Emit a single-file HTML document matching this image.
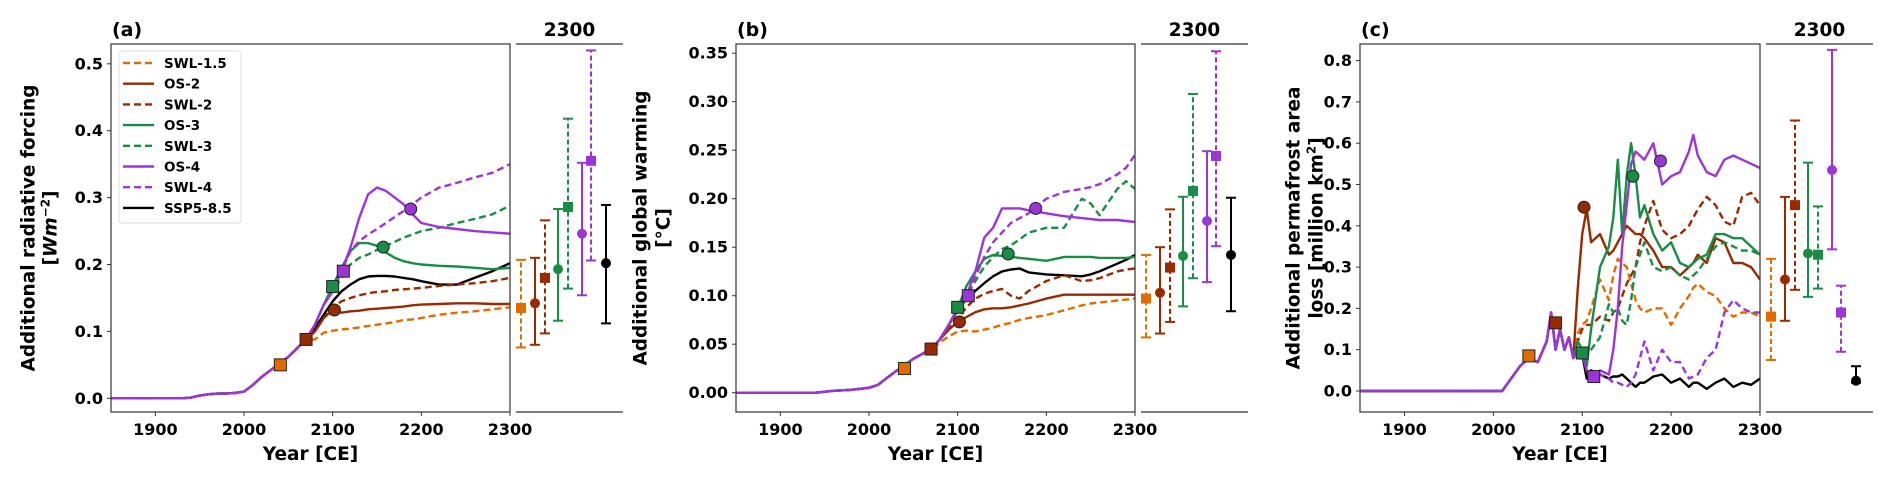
<!DOCTYPE html>
<html><head><meta charset="utf-8"><style>
html,body{margin:0;padding:0;background:#fff}
svg{display:block;font-family:"DejaVu Sans","Liberation Sans",sans-serif;font-weight:bold}
</style></head><body>
<svg id="fig" width="1892" height="482" viewBox="0 0 1892 482"></svg>
<script>
// ---------- shared ----------
const seriesNames = ["SWL-1.5","OS-2","SWL-2","OS-3","SWL-3","OS-4","SWL-4","SSP5-8.5"];
const xTicks = [1900,2000,2100,2200,2300];

// ---------- panel (a) data ----------
const aHistYears = [1850,1900,1930,1940,1950,1960,1970,1980,1990,2000,2010,2020,2030,2040,2050,2060,2070];
const aHistVals  = [0,0,0,0.001,0.004,0.006,0.007,0.007,0.008,0.01,0.02,0.032,0.042,0.052,0.062,0.075,0.088];
const aYearsLate = [2080,2090,2100,2110,2120,2130,2140,2150,2160,2170,2180,2190,2200,2220,2240,2260,2280,2300];
const aSWL15 = [0.088,0.098,0.101,0.103,0.104,0.106,0.108,0.110,0.112,0.114,0.117,0.118,0.120,0.125,0.128,0.130,0.133,0.136];
const aOS2   = [0.100,0.120,0.132,0.128,0.130,0.131,0.133,0.134,0.135,0.136,0.137,0.139,0.140,0.141,0.142,0.142,0.141,0.141];
const aSWL2  = [0.100,0.120,0.135,0.145,0.150,0.154,0.157,0.159,0.160,0.162,0.163,0.164,0.165,0.168,0.170,0.172,0.175,0.180];
const aOS3   = [0.110,0.140,0.168,0.195,0.220,0.232,0.232,0.228,0.218,0.210,0.205,0.202,0.200,0.198,0.197,0.195,0.193,0.195];
const aSWL3  = [0.110,0.140,0.160,0.180,0.200,0.210,0.215,0.222,0.228,0.234,0.240,0.245,0.250,0.255,0.262,0.268,0.275,0.288];
const aOS4   = [0.110,0.140,0.160,0.190,0.225,0.270,0.305,0.315,0.310,0.300,0.290,0.275,0.262,0.256,0.253,0.250,0.248,0.246];
const aSWL4  = [0.110,0.140,0.160,0.190,0.220,0.235,0.245,0.253,0.262,0.271,0.280,0.290,0.300,0.315,0.322,0.330,0.337,0.350];
const aSSP   = [0.105,0.125,0.145,0.160,0.170,0.178,0.182,0.183,0.183,0.182,0.180,0.178,0.175,0.170,0.170,0.180,0.190,0.202];
const aSqYears = [2041,2070,2100,2112];
const aSqVals  = [0.050,0.088,0.167,0.190];
const aCircYears = [2102,2157,2188];
const aCircVals  = [0.132,0.226,0.283];
const aMid  = [0.135,0.142,0.180,0.193,0.286,0.246,0.355,0.202];
const aLow  = [0.076,0.080,0.097,0.116,0.164,0.154,0.206,0.112];
const aHigh = [0.207,0.210,0.266,0.283,0.418,0.352,0.520,0.289];
const aYTicks = [0.0,0.1,0.2,0.3,0.4,0.5];
const aYTickLabels = ["0.0","0.1","0.2","0.3","0.4","0.5"];

// ---------- panel (b) data ----------
const bHistYears = [1850,1880,1900,1920,1940,1960,1980,2000,2010,2020,2030,2040,2050,2060,2070];
const bHistVals  = [0,0,0,0,0,0.002,0.003,0.005,0.008,0.015,0.022,0.028,0.035,0.040,0.045];
const bYearsLate = [2080,2090,2100,2110,2120,2130,2140,2150,2160,2170,2180,2200,2220,2240,2250,2260,2280,2290,2300];
const bSWL15 = [0.052,0.058,0.063,0.064,0.063,0.065,0.067,0.070,0.072,0.075,0.077,0.080,0.085,0.090,0.092,0.093,0.095,0.096,0.097];
const bOS2   = [0.055,0.065,0.073,0.078,0.083,0.086,0.087,0.087,0.088,0.090,0.092,0.097,0.101,0.101,0.101,0.101,0.101,0.101,0.101];
const bSWL2  = [0.055,0.066,0.077,0.088,0.097,0.102,0.105,0.107,0.100,0.097,0.105,0.115,0.121,0.115,0.116,0.118,0.125,0.127,0.128];
const bOS3   = [0.055,0.070,0.087,0.110,0.125,0.138,0.142,0.141,0.140,0.139,0.138,0.136,0.140,0.140,0.140,0.139,0.139,0.139,0.140];
const bSWL3  = [0.055,0.070,0.087,0.100,0.115,0.130,0.140,0.148,0.152,0.158,0.165,0.170,0.170,0.200,0.195,0.183,0.210,0.218,0.210];
const bOS4   = [0.055,0.070,0.087,0.100,0.125,0.160,0.170,0.190,0.190,0.190,0.188,0.185,0.182,0.180,0.179,0.178,0.178,0.177,0.176];
const bSWL4  = [0.055,0.070,0.087,0.100,0.120,0.140,0.155,0.165,0.175,0.180,0.185,0.200,0.207,0.210,0.212,0.215,0.225,0.232,0.245];
const bSSP   = [0.055,0.070,0.085,0.097,0.105,0.113,0.120,0.125,0.127,0.128,0.124,0.122,0.121,0.120,0.122,0.125,0.133,0.137,0.142];
const bSqYears = [2040,2070,2100,2112];
const bSqVals  = [0.025,0.045,0.088,0.100];
const bCircYears = [2102,2157,2188];
const bCircVals  = [0.073,0.143,0.190];
const bMid  = [0.097,0.103,0.129,0.141,0.208,0.177,0.244,0.142];
const bLow  = [0.057,0.061,0.073,0.089,0.118,0.114,0.151,0.084];
const bHigh = [0.142,0.150,0.189,0.202,0.308,0.249,0.352,0.201];
const bYTicks = [0,0.05,0.10,0.15,0.20,0.25,0.30,0.35];
const bYTickLabels = ["0.00","0.05","0.10","0.15","0.20","0.25","0.30","0.35"];

// ---------- panel (c) data ----------
const cHistYears = [1850,1900,1950,2000,2010,2020,2030,2040,2050,2060,2065,2070,2075,2080,2085,2090];
const cHistVals  = [0,0,0,0,0,0.03,0.06,0.08,0.07,0.12,0.19,0.10,0.15,0.10,0.13,0.08];
const cYearsLate = [2095,2100,2105,2110,2120,2130,2135,2140,2145,2150,2155,2160,2165,2170,2180,2190,2200,2210,2220,2225,2230,2240,2250,2260,2270,2280,2290,2300];
const cSWL15 = [0.14,0.16,0.17,0.20,0.27,0.22,0.28,0.32,0.31,0.30,0.26,0.22,0.20,0.19,0.20,0.20,0.16,0.20,0.23,0.25,0.26,0.24,0.23,0.20,0.18,0.19,0.19,0.18];
const cOS2   = [0.25,0.38,0.44,0.36,0.38,0.33,0.34,0.36,0.38,0.40,0.39,0.38,0.38,0.37,0.34,0.30,0.30,0.28,0.30,0.31,0.33,0.31,0.37,0.36,0.31,0.31,0.30,0.27];
const cSWL2  = [0.12,0.15,0.16,0.16,0.18,0.17,0.19,0.20,0.23,0.26,0.28,0.30,0.36,0.40,0.46,0.39,0.37,0.38,0.40,0.42,0.44,0.47,0.45,0.41,0.40,0.47,0.48,0.45];
const cOS3   = [0.12,0.10,0.06,0.15,0.30,0.35,0.42,0.56,0.38,0.52,0.60,0.52,0.42,0.45,0.38,0.34,0.36,0.31,0.30,0.31,0.32,0.33,0.38,0.38,0.37,0.37,0.35,0.33];
const cSWL3  = [0.10,0.095,0.09,0.10,0.13,0.21,0.19,0.20,0.17,0.16,0.22,0.30,0.33,0.36,0.30,0.29,0.30,0.28,0.27,0.28,0.29,0.32,0.35,0.36,0.35,0.34,0.34,0.33];
const cOS4   = [0.10,0.09,0.05,0.035,0.05,0.04,0.10,0.20,0.35,0.45,0.55,0.58,0.57,0.56,0.60,0.50,0.52,0.53,0.58,0.62,0.57,0.53,0.52,0.56,0.57,0.56,0.55,0.54];
const cSWL4  = [0.10,0.09,0.05,0.035,0.04,0.03,0.02,0.02,0.015,0.01,0.02,0.04,0.08,0.12,0.05,0.10,0.07,0.07,0.03,0.035,0.04,0.08,0.10,0.19,0.22,0.20,0.19,0.19];
const cSSP   = [0.10,0.09,0.03,0.05,0.04,0.03,0.035,0.035,0.04,0.03,0.02,0.01,0.02,0.02,0.035,0.04,0.02,0.03,0.01,0.02,0.02,0.005,0.02,0.03,0.01,0.02,0.015,0.03];
const cSqYears = [2040,2070,2100,2113];
const cSqVals  = [0.085,0.165,0.092,0.035];
const cCircYears = [2102,2157,2188];
const cCircVals  = [0.445,0.520,0.557];
const cMid  = [0.180,0.270,0.450,0.333,0.330,0.535,0.190,0.025];
const cLow  = [0.075,0.170,0.245,0.228,0.248,0.343,0.095,0.020];
const cHigh = [0.320,0.470,0.655,0.553,0.447,0.826,0.255,0.060];
const cYTicks = [0,0.1,0.2,0.3,0.4,0.5,0.6,0.7,0.8];
const cYTickLabels = ["0.0","0.1","0.2","0.3","0.4","0.5","0.6","0.7","0.8"];

// ---------- drawing ----------
const NS = "http://www.w3.org/2000/svg";
const svg = document.getElementById("fig");
const colors = ["#e06c00","#962b00","#962b00","#1a8c45","#1a8c45","#9b35d6","#9b35d6","#000000"];
const dashed = [true,false,true,false,true,false,true,false];
function mk(tag, attrs, parent){
  const e = document.createElementNS(NS, tag);
  for (const k in attrs) e.setAttribute(k, attrs[k]);
  (parent||svg).appendChild(e);
  return e;
}
function drawPanel(P){
  const g = mk("g", {});
  
  
  const X = yr => P.left + (yr - 1850) / 450 * (P.right - P.left);
  const Y = v => P.zeroY - v * P.pxPerUnit;
  const T = 44, B = 412;
  const cid = "clip" + P.id;
  const cp = mk("clipPath", {id: cid}, g);
  mk("rect", {x: P.left, y: T, width: P.right - P.left, height: B - T}, cp);
  const series = [P.s[0],P.s[1],P.s[2],P.s[3],P.s[4],P.s[5],P.s[6],P.s[7]];
  const order = [7,0,1,2,3,4,5,6];
  order.forEach(i => {
    const ys = P.histYears.concat(P.lateYears);
    const vs = P.histVals.concat(series[i]);
    let d = "";
    ys.forEach((yr, k) => { d += (k ? "L" : "M") + X(yr).toFixed(1) + " " + Y(vs[k]).toFixed(1); });
    const p = mk("path", {d: d, fill: "none", stroke: colors[i], "stroke-width": 2.4,
      "stroke-dasharray": dashed[i] ? "7 4" : "none", "clip-path": "url(#" + cid + ")", "stroke-linejoin": "round"}, g);
    
    
  });
  const sqIdx = [0,2,4,6];
  P.sqYears.forEach((yr, k) => {
    const r = mk("rect", {x: X(yr) - 6, y: Y(P.sqVals[k]) - 6, width: 12, height: 12, fill: colors[sqIdx[k]], stroke: "#222", "stroke-width": 1}, g);
    
    
  });
  const ciIdx = [1,3,5];
  P.circYears.forEach((yr, k) => {
    const c = mk("circle", {cx: X(yr), cy: Y(P.circVals[k]), r: 6, fill: colors[ciIdx[k]], stroke: "#222", "stroke-width": 1}, g);
    
    
  });
  const fr = mk("rect", {x: P.left, y: T, width: P.right - P.left, height: B - T, fill: "none", stroke: "#333", "stroke-width": 1.2}, g);
  
  
  P.yTicks.forEach((v, k) => {
    mk("line", {x1: P.left - 4, x2: P.left, y1: Y(v), y2: Y(v), stroke: "#333", "stroke-width": 1}, g);
    const t = mk("text", {x: P.left - 8, y: Y(v) + 5.5, "text-anchor": "end", "font-size": 16}, g);
    t.textContent = P.yTickLabels[k];
    
    
  });
  xTicks.forEach(yr => {
    mk("line", {x1: X(yr), x2: X(yr), y1: B, y2: B + 4, stroke: "#333", "stroke-width": 1}, g);
    const t = mk("text", {x: X(yr), y: 435, "text-anchor": "middle", "font-size": 16}, g);
    t.textContent = yr;
    
    
  });
  const xl = mk("text", {x: (P.left + P.right) / 2, y: 460, "text-anchor": "middle", "font-size": 18.5}, g);
  xl.textContent = "Year [CE]";
  
  
  P.ylabel.forEach((line, k) => {
    const cy = (T + B) / 2 + (P.ylabelDy || 0);
    const x = P.ylabelX[k];
    const t = mk("text", {x: x, y: cy, "text-anchor": "middle", "font-size": 18.5, transform: "rotate(-90 " + x + " " + cy + ")", dy: "0.35em"}, g);
    t.innerHTML = line;
    
    
  });
  const pl = mk("text", {x: P.left + 1, y: 36, "font-size": 19}, g);
  pl.textContent = "(" + P.id + ")";
  
  
  const iL = P.right + 6, iR = iL + 107;
  mk("line", {x1: iL, x2: iR, y1: T, y2: T, stroke: "#333", "stroke-width": 1.2}, g);
  mk("line", {x1: iL, x2: iR, y1: B, y2: B, stroke: "#333", "stroke-width": 1.2}, g);
  const it = mk("text", {x: (iL + iR) / 2, y: 36, "text-anchor": "middle", "font-size": 18.5}, g);
  it.textContent = "2300";
  
  
  const offs = [5,19,29,42,52,66,75,90];
  for (let i = 0; i < 8; i++) {
    const x = iL + offs[i];
    const eg = mk("g", {}, g);
    
    
    mk("line", {x1: x, x2: x, y1: Y(P.low[i]), y2: Y(P.high[i]), stroke: colors[i], "stroke-width": 2, "stroke-dasharray": dashed[i] ? "5 3" : "none"}, eg);
    mk("line", {x1: x - 5, x2: x + 5, y1: Y(P.low[i]), y2: Y(P.low[i]), stroke: colors[i], "stroke-width": 2}, eg);
    mk("line", {x1: x - 5, x2: x + 5, y1: Y(P.high[i]), y2: Y(P.high[i]), stroke: colors[i], "stroke-width": 2}, eg);
    if (dashed[i]) mk("rect", {x: x - 5, y: Y(P.mid[i]) - 5, width: 10, height: 10, fill: colors[i]}, eg);
    else mk("circle", {cx: x, cy: Y(P.mid[i]), r: 5, fill: colors[i]}, eg);
  }
  return {X, Y, g};
}

drawPanel({id: "a", left: 111, right: 510, zeroY: 398.3, pxPerUnit: 669,
  histYears: aHistYears, histVals: aHistVals, lateYears: aYearsLate,
  s: [aSWL15,aOS2,aSWL2,aOS3,aSWL3,aOS4,aSWL4,aSSP],
  sqYears: aSqYears, sqVals: aSqVals, circYears: aCircYears, circVals: aCircVals,
  mid: aMid, low: aLow, high: aHigh, yTicks: aYTicks, yTickLabels: aYTickLabels,
  ylabel: ["Additional radiative forcing", "[<tspan font-style='italic'>Wm</tspan><tspan dy='-7' font-size='12'>−2</tspan><tspan dy='7'>]</tspan>"], ylabelX: [28, 50]});
drawPanel({id: "b", left: 736, right: 1135, zeroY: 392.7, pxPerUnit: 970,
  histYears: bHistYears, histVals: bHistVals, lateYears: bYearsLate,
  s: [bSWL15,bOS2,bSWL2,bOS3,bSWL3,bOS4,bSWL4,bSSP],
  sqYears: bSqYears, sqVals: bSqVals, circYears: bCircYears, circVals: bCircVals,
  mid: bMid, low: bLow, high: bHigh, yTicks: bYTicks, yTickLabels: bYTickLabels,
  ylabel: ["Additional global warming", "[°C]"], ylabelX: [640, 663]});
drawPanel({id: "c", left: 1360, right: 1760, zeroY: 391, pxPerUnit: 413,
  histYears: cHistYears, histVals: cHistVals, lateYears: cYearsLate,
  s: [cSWL15,cOS2,cSWL2,cOS3,cSWL3,cOS4,cSWL4,cSSP],
  sqYears: cSqYears, sqVals: cSqVals, circYears: cCircYears, circVals: cCircVals,
  mid: cMid, low: cLow, high: cHigh, yTicks: cYTicks, yTickLabels: cYTickLabels,
  ylabel: ["Additional permafrost area", "loss [million km<tspan dy='-7' font-size='12'>2</tspan><tspan dy='7'>]</tspan>"], ylabelX: [1293, 1316]});

// legend in panel (a)
const lg = mk("g", {});


mk("rect", {x: 119, y: 51, width: 122, height: 172, rx: 3, fill: "#fff", "fill-opacity": 0.85, stroke: "#ddd", "stroke-width": 1}, lg);
seriesNames.forEach((n, i) => {
  const y = 63 + i * 20.7;
  const e = mk("g", {}, lg);
  
  
  mk("line", {x1: 123, x2: 154, y1: y, y2: y, stroke: colors[i], "stroke-width": 2.4, "stroke-dasharray": dashed[i] ? "7 4" : "none"}, e);
  const t = mk("text", {x: 164, y: y + 5, "font-size": 13.5}, e);
  t.textContent = n;
});
</script>
</body></html>
